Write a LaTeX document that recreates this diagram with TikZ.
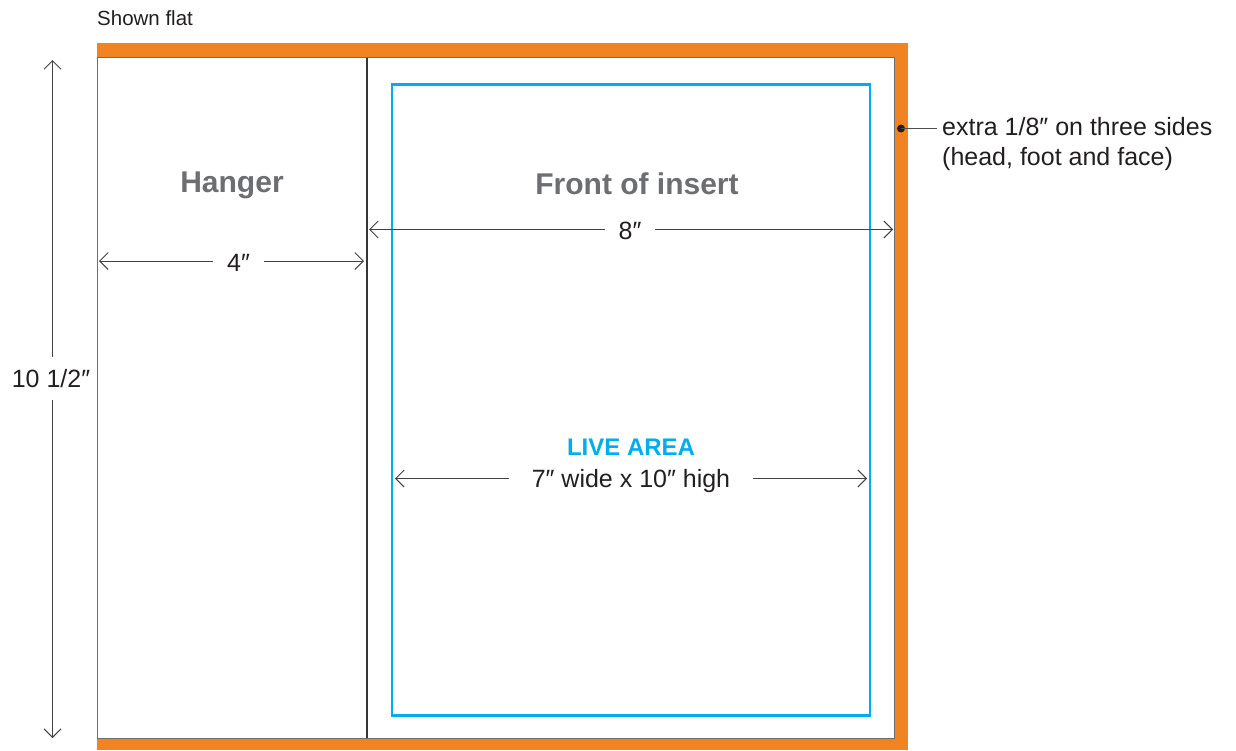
\documentclass[tikz,border=0pt]{standalone}
\usepackage{fontspec}
\setmainfont{Liberation Sans}
\usetikzlibrary{arrows.meta}
\definecolor{bleed}{HTML}{F28322}
\definecolor{live}{HTML}{00AEEF}
\definecolor{lbl}{HTML}{6D6E71}
\definecolor{ink}{HTML}{231F20}
\begin{document}
\begin{tikzpicture}[x=1pt,y=-1pt,
  dimline/.style={draw=ink!85, line width=1pt, -{Straight Barb[length=8.5pt,width=17pt,line width=1pt]}},
  dimlbl/.style={font=\fontsize{25}{27}\selectfont, text=ink, inner sep=0pt},
  bigtitle/.style={font=\fontsize{30}{32}\selectfont\bfseries, text=lbl},
]
\useasboundingbox (0,0) rectangle (1236,750);
% bleed and trim
\fill[bleed] (97,43) rectangle (908,750);
\node[draw=ink!65, line width=1.3pt, fill=white, minimum width=797pt, minimum height=681pt, inner sep=0pt, outer sep=0pt, anchor=north west] (trim) at (97.5,57.5) {};
% fold
\draw[ink!90, line width=2.2pt] (366.7,57.5) coordinate (foldtop) -- (366.7,738) coordinate (foldbot);
% live area
\node[draw=live, line width=2.2pt, minimum width=478pt, minimum height=631pt, inner sep=0pt, outer sep=0pt, anchor=north west] (liverect) at (392,84.5) {};
% title
\node[anchor=west, font=\fontsize{20.5}{22}\selectfont, text=ink, inner sep=0pt] (shown) at (97,18) {Shown flat};
% panel titles
\node[bigtitle] (hanger) at (232,185) {Hanger};
\node[bigtitle] (front) at (637,184) {Front of insert};
% 4 inch
\coordinate (h4l) at (99,261);
\coordinate (h4r) at (364,261);
\node[dimlbl, minimum width=51pt, minimum height=20pt] (l4) at (238.5,263) {4″};
\draw[dimline] (l4.west |- h4l) -- (h4l);
\draw[dimline] (l4.east |- h4r) -- (h4r);
% 8 inch
\coordinate (h8l) at (369,229.5);
\coordinate (h8r) at (893,229.5);
\node[dimlbl, minimum width=50pt, minimum height=20pt] (l8) at (630,231) {8″};
\draw[dimline] (l8.west |- h8l) -- (h8l);
\draw[dimline] (l8.east |- h8r) -- (h8r);
% live area dims
\node[font=\fontsize{24}{26}\selectfont\bfseries, text=live, inner sep=0pt] (livet) at (631,447) {LIVE AREA};
\coordinate (h7l) at (395,478.5);
\coordinate (h7r) at (867,478.5);
\node[dimlbl, minimum width=244pt, minimum height=22pt] (l7) at (631,481) {7″ wide x 10″ high};
\draw[dimline] (l7.west |- h7l) -- (h7l);
\draw[dimline] (l7.east |- h7r) -- (h7r);
% 10 1/2 vertical
\coordinate (v10t) at (52.5,60);
\coordinate (v10b) at (52.5,738);
\node[dimlbl, minimum height=43pt] (l10) at (51,378.5) {10 1/2″};
\draw[dimline] (l10.north -| v10t) -- (v10t);
\draw[dimline] (l10.south -| v10b) -- (v10b);
% annotation
\fill[ink] (901,128.5) circle (4pt) coordinate (dot);
\coordinate (annend) at (937,128.5);
\draw[ink!80, line width=1pt] (dot) -- (annend);
\node[anchor=north west, align=left, font=\fontsize{25}{30}\selectfont, text=ink, inner sep=0pt] (ann) at (942,117) {extra 1/8″ on three sides\\(head, foot and face)};
\end{tikzpicture}
\end{document}
